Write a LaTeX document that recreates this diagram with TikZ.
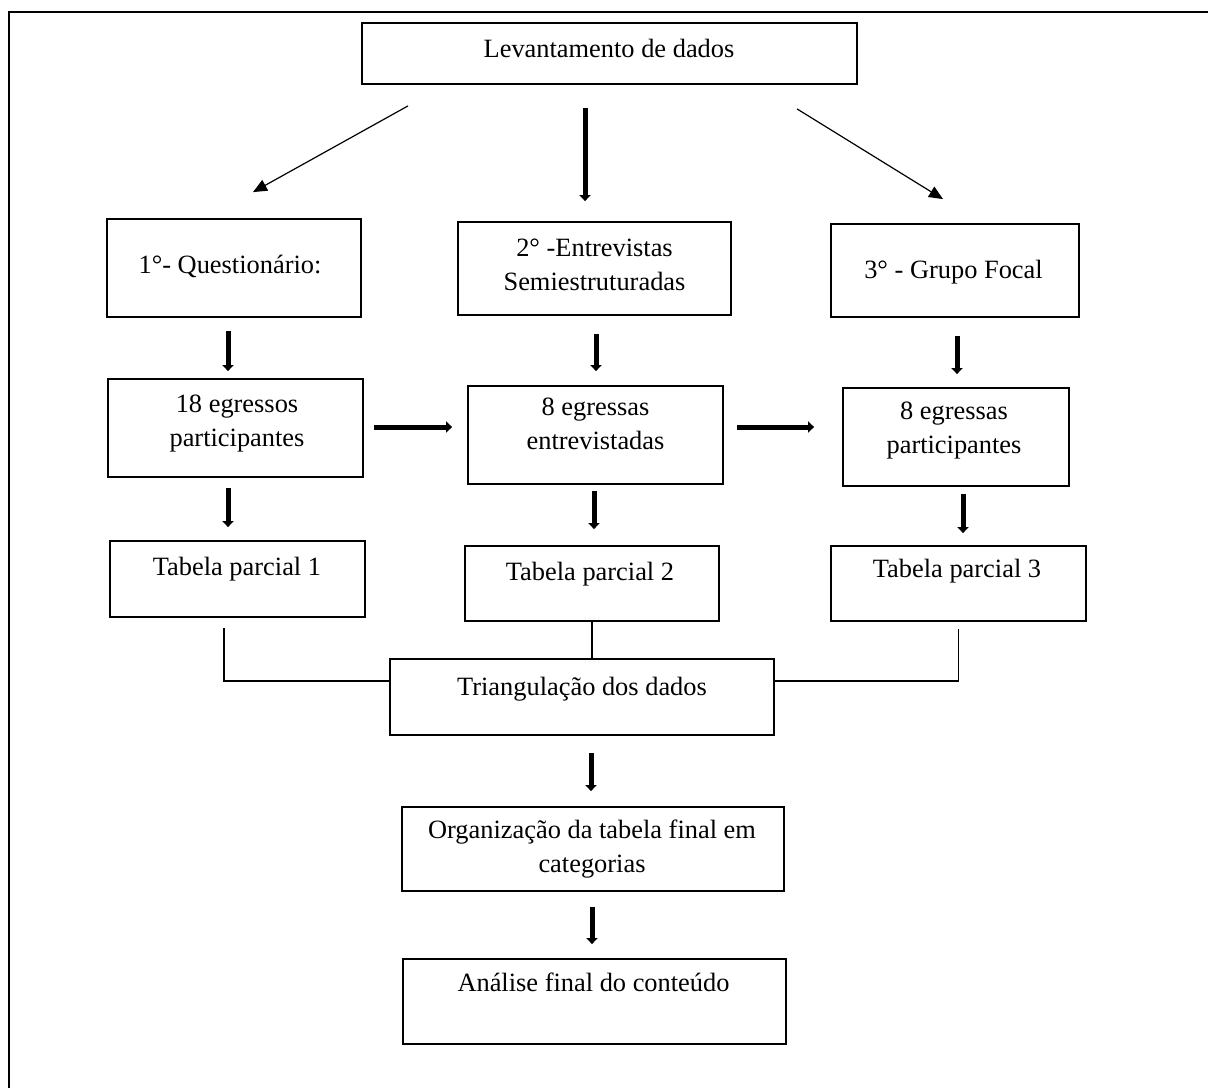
\documentclass[tikz,border=0pt]{standalone}
\usepackage{fontspec}
\setmainfont{Liberation Serif}
\usetikzlibrary{arrows.meta,fit}
\begin{document}
\begin{tikzpicture}[x=0.5pt,y=-0.5pt,
  box/.style={draw, line width=0.9pt, inner sep=0pt},
  txt/.style={font=\fontsize{13.2}{17}\selectfont, align=center, anchor=base, inner sep=0pt},
  thinarr/.style={line width=0.6pt, -{Triangle[length=7pt,width=6pt]}},
  thickarr/.style={line width=2.5pt, -{Triangle[length=3pt,width=5.5pt]}},
  conn/.style={line width=0.6pt}]
\useasboundingbox (0,0) rectangle (1208,1088);
% outer frame
\draw[line width=1.2pt] (9,1088) -- (9,12) -- (1208,12);

% boxes
\node[box, fit={(362,23) (857,84)}] (lev) {};
\node[box, fit={(107,219) (361,317)}] (q) {};
\node[box, fit={(458,222) (731,315)}] (e) {};
\node[box, fit={(831,224) (1079,317)}] (g) {};
\node[box, fit={(108,379) (363,477)}] (q2) {};
\node[box, fit={(468,386) (723,484)}] (e2) {};
\node[box, fit={(843,388) (1069,486)}] (g2) {};
\node[box, fit={(110,541) (365,617)}] (t1) {};
\node[box, fit={(465,546) (719,621)}] (t2) {};
\node[box, fit={(831,546) (1086,621)}] (t3) {};
\node[box, fit={(390,659) (774,735)}] (tri) {};
\node[box, fit={(402,807) (784,891)}] (org) {};
\node[box, fit={(403,959) (786,1044)}] (ana) {};

% texts (base anchor = baseline of the last line)
\node[txt] (levT) at (609,57) {Levantamento de dados};
\node[txt] (qT) at (230,273) {1°- Questionário:};
\node[txt] (eT) at (594.5,290) {2° -Entrevistas\\Semiestruturadas};
\node[txt] (gT) at (953.5,278) {3° - Grupo Focal};
\node[txt] (q2T) at (237,446) {18 egressos\\participantes};
\node[txt] (e2T) at (595.5,449) {8 egressas\\entrevistadas};
\node[txt] (g2T) at (954,453) {8 egressas\\participantes};
\node[txt] (t1T) at (237,575) {Tabela parcial 1};
\node[txt] (t2T) at (590,580) {Tabela parcial 2};
\node[txt] (t3T) at (957,577) {Tabela parcial 3};
\node[txt] (triT) at (582,695) {Triangulação dos dados};
\node[txt] (orgT) at (592,872) {Organização da tabela final em\\categorias};
\node[txt] (anaT) at (593.5,991) {Análise final do conteúdo};

% arrows from top box
\draw[thinarr] ([shift={(-201.5,21)}]lev.south) -- ([shift={(19,-26)}]q.north);
\draw[thinarr] ([shift={(187.5,24)}]lev.south) -- ([shift={(-12,-24)}]g.north);
\draw[thickarr] ([shift={(-24.5,23)}]lev.south) -- ([shift={(-9.5,-20)}]e.north);

% vertical thick arrows
\draw[thickarr] ([shift={(-6,13)}]q.south) -- ([shift={(-7.5,-7)}]q2.north);
\draw[thickarr] ([shift={(1.5,18)}]e.south) -- ([shift={(0.5,-14)}]e2.north);
\draw[thickarr] ([shift={(2,18)}]g.south) -- ([shift={(1,-13)}]g2.north);
\draw[thickarr] ([shift={(-7.5,10)}]q2.south) -- ([shift={(-9.5,-13)}]t1.north);
\draw[thickarr] ([shift={(-1.5,6)}]e2.south) -- ([shift={(2,-16)}]t2.north);
\draw[thickarr] ([shift={(7,7)}]g2.south) -- ([shift={(4.5,-12)}]t3.north);
\draw[thickarr] ([shift={(9,17)}]tri.south) -- ([shift={(-2,-15)}]org.north);
\draw[thickarr] ([shift={(-1,15)}]org.south) -- ([shift={(-2.5,-14)}]ana.north);

% horizontal thick arrows
\draw[thickarr] ([shift={(10,-1)}]q2.east) -- ([shift={(-15,-8)}]e2.west);
\draw[thickarr] ([shift={(13,-8)}]e2.east) -- ([shift={(-28,-10)}]g2.west);

% triangulation connectors
\draw[conn] ([shift={(-13.5,10)}]t1.south) |- ([shift={(0,-16)}]tri.west);
\draw[conn] (t2.south) -- (t2.south |- tri.north);
\draw[conn] ([shift={(0,7)}]t3.south) |- ([shift={(0,-16)}]tri.east);
\end{tikzpicture}
\end{document}
